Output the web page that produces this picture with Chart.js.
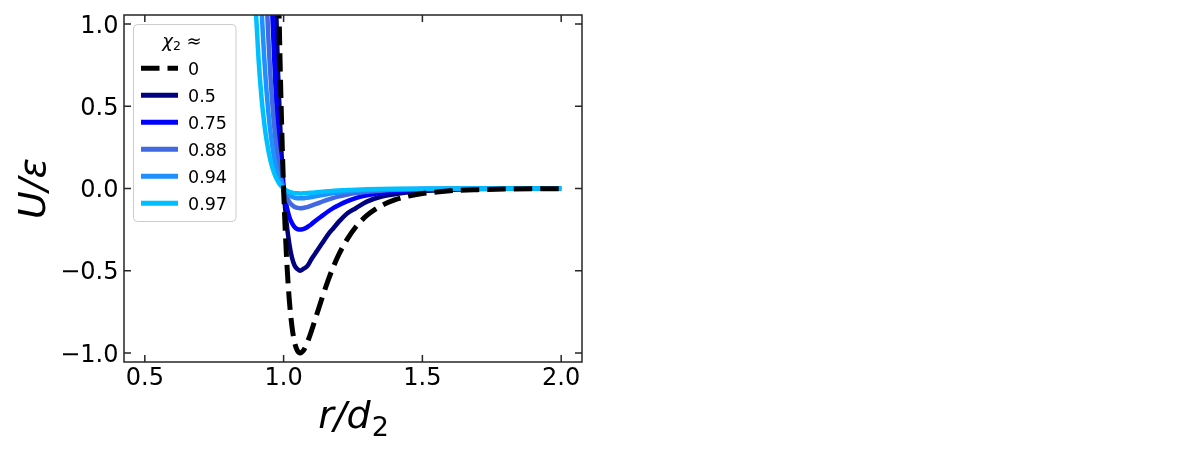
<!DOCTYPE html>
<html><head><meta charset="utf-8">
<script src="https://cdn.jsdelivr.net/npm/chart.js@4.4.1/dist/chart.umd.min.js"></script>
<style>html,body{margin:0;padding:0;background:#fff;} #wrap{width:1196px;height:461px;position:relative;}</style>
</head><body><div id="wrap"><canvas id="c" width="1196" height="461"></canvas></div>
<script>
// r / d2 sample positions
const r = [0.86,0.87,0.88,0.89,0.90,0.91,0.92,0.93,0.94,0.95,0.96,0.97,0.98,0.99,1.00,
  1.01,1.02,1.03,1.04,1.05,1.06,1.07,1.08,1.09,1.10,1.12,1.14,1.16,1.18,1.20,
  1.23,1.26,1.30,1.35,1.40,1.45,1.50,1.60,1.70,1.80,1.90,2.00];

// chi_2 ≈ labels
const chiLabels = ['0','0.5','0.75','0.88','0.94','0.97'];

// U/eps values
const u000 = [124.9,91.8,67.5,49.4,36.0,26.1,18.7,13.3,9.26,6.30,4.13,2.54,1.40,0.578,0.0,
  -0.399,-0.667,-0.838,-0.938,-0.987,-1.000,-0.988,-0.958,-0.916,-0.868,-0.763,-0.658,-0.560,-0.473,-0.398,
  -0.306,-0.234,-0.164,-0.106,-0.069,-0.046,-0.031,-0.014,-0.0069,-0.0035,-0.0018,-0.001];
const u050 = [62.5,45.9,33.8,24.7,18.0,13.1,9.35,6.65,4.63,3.15,2.07,1.27,0.70,0.29,0.0,
  -0.20,-0.33,-0.42,-0.47,-0.49,-0.50,-0.49,-0.48,-0.46,-0.43,-0.38,-0.33,-0.28,-0.24,-0.20,
  -0.15,-0.12,-0.08,-0.05,-0.035,-0.023,-0.015,-0.007,-0.0035,-0.0017,-0.0009,-0.0005];
const u075 = [31.2,23.0,16.9,12.4,9.0,6.5,4.7,3.3,2.3,1.57,1.03,0.64,0.35,0.14,0.0,
  -0.10,-0.17,-0.21,-0.235,-0.247,-0.25,-0.247,-0.24,-0.229,-0.217,-0.19,-0.165,-0.14,-0.118,-0.10,
  -0.077,-0.058,-0.041,-0.027,-0.017,-0.011,-0.008,-0.0035,-0.0017,-0.0009,-0.0005,-0.0002];
const u088 = [15.0,11.0,8.1,5.9,4.3,3.13,2.25,1.6,1.11,0.76,0.50,0.31,0.17,0.07,0.0,
  -0.048,-0.08,-0.10,-0.113,-0.118,-0.12,-0.119,-0.115,-0.11,-0.104,-0.092,-0.079,-0.067,-0.057,-0.048,
  -0.037,-0.028,-0.02,-0.013,-0.008,-0.0055,-0.0037,-0.0017,-0.0008,-0.0004,-0.0002,-0.0001];
const u094 = [7.5,5.5,4.05,2.96,2.16,1.57,1.12,0.80,0.56,0.38,0.25,0.15,0.084,0.035,0.0,
  -0.024,-0.04,-0.05,-0.056,-0.059,-0.06,-0.059,-0.057,-0.055,-0.052,-0.046,-0.039,-0.034,-0.028,-0.024,
  -0.018,-0.014,-0.01,-0.0064,-0.0042,-0.0028,-0.0018,-0.0008,-0.0004,-0.0002,-0.0001,-0.0001];
const u097 = [3.75,2.75,2.03,1.48,1.08,0.78,0.56,0.40,0.28,0.19,0.124,0.076,0.042,0.017,0.0,
  -0.012,-0.02,-0.025,-0.028,-0.0296,-0.03,-0.0296,-0.029,-0.027,-0.026,-0.023,-0.02,-0.017,-0.014,-0.012,
  -0.009,-0.007,-0.005,-0.0032,-0.0021,-0.0014,-0.0009,-0.0004,-0.0002,-0.0001,0,0];

// axis ticks
const xTicks = [0.5,1.0,1.5,2.0];
const xTickLabels = ['0.5','1.0','1.5','2.0'];
const yTicks = [-1.0,-0.5,0.0,0.5,1.0];
const yTickLabels = ['\u22121.0','\u22120.5','0.0','0.5','1.0'];

const seriesVals = [u000,u050,u075,u088,u094,u097];
const colors = ['#000000','#000080','#0000ff','#4169e1','#1e90ff','#00bfff'];
const drawOrder = [0,5,4,3,2,1];

const toPts = vals => vals.map((v,i)=>({x:r[i], y:v}));

const datasets = seriesVals.map((vals,i)=>({
  label: chiLabels[i],
  data: toPts(vals),
  borderColor: colors[i],
  backgroundColor: colors[i],
  borderWidth: i===0 ? 5 : 4.5,
  borderDash: i===0 ? [18.5,8] : [],
  borderCapStyle: 'butt',
  borderJoinStyle: 'round',
  cubicInterpolationMode: 'monotone',
  pointRadius: 0,
  fill: false,
  order: drawOrder[i]
}));

const FRAME = '#262626';
const FONT = '"DejaVu Sans", sans-serif';

const decor = {
  id: 'decor',
  afterDraw(chart){
    const ctx = chart.ctx, a = chart.chartArea;
    const xs = chart.scales.x, ys = chart.scales.y;
    ctx.save();
    // frame
    ctx.strokeStyle = FRAME; ctx.lineWidth = 1.5;
    ctx.strokeRect(a.left, a.top, a.right-a.left, a.bottom-a.top);
    // inward ticks
    ctx.beginPath();
    xTicks.forEach(v=>{
      const px = xs.getPixelForValue(v);
      ctx.moveTo(px, a.bottom); ctx.lineTo(px, a.bottom-7);
      ctx.moveTo(px, a.top); ctx.lineTo(px, a.top+7);
    });
    yTicks.forEach(v=>{
      const py = ys.getPixelForValue(v);
      ctx.moveTo(a.left, py); ctx.lineTo(a.left+7, py);
      ctx.moveTo(a.right, py); ctx.lineTo(a.right-7, py);
    });
    ctx.stroke();
    // tick labels
    ctx.fillStyle = '#000';
    ctx.font = '24px ' + FONT;
    ctx.textBaseline = 'alphabetic';
    ctx.textAlign = 'center';
    xTicks.forEach((v,i)=>{
      ctx.fillText(xTickLabels[i], xs.getPixelForValue(v), a.bottom + 22.5);
    });
    ctx.textAlign = 'right';
    yTicks.forEach((v,i)=>{
      ctx.fillText(yTickLabels[i], a.left - 5.5, ys.getPixelForValue(v) + 8.7);
    });
    // x axis title r/d2
    ctx.textAlign = 'left';
    ctx.font = 'italic 38px ' + FONT;
    const main = 'r/d';
    const wMain = ctx.measureText(main).width;
    ctx.font = '27px ' + FONT;
    const wSub = ctx.measureText('2').width;
    const cx = (a.left + a.right)/2;
    const x0 = cx - (wMain + wSub)/2;
    ctx.font = 'italic 38px ' + FONT;
    ctx.fillText(main, x0, 428);
    ctx.font = '27px ' + FONT;
    ctx.fillText('2', x0 + wMain + 1, 436);
    // y axis title U/eps
    ctx.save();
    ctx.translate(45, (a.top + a.bottom)/2);
    ctx.rotate(-Math.PI/2);
    ctx.font = 'italic 38px ' + FONT;
    ctx.textAlign = 'center';
    ctx.fillText('U/\u03b5', 0, 0);
    ctx.restore();
    // legend box
    const bx = 133.5, by = 24.5, bw = 102.5, bh = 197, rad = 4;
    ctx.beginPath();
    ctx.moveTo(bx+rad, by);
    ctx.arcTo(bx+bw, by, bx+bw, by+bh, rad);
    ctx.arcTo(bx+bw, by+bh, bx, by+bh, rad);
    ctx.arcTo(bx, by+bh, bx, by, rad);
    ctx.arcTo(bx, by, bx+bw, by, rad);
    ctx.closePath();
    ctx.fillStyle = 'rgba(255,255,255,0.8)';
    ctx.fill();
    ctx.strokeStyle = '#cccccc'; ctx.lineWidth = 1;
    ctx.stroke();
    // legend title  χ2 ≈
    ctx.fillStyle = '#000';
    ctx.textAlign = 'left';
    ctx.font = 'italic 18px ' + FONT;
    const wChi = ctx.measureText('\u03c7').width;
    ctx.font = '12.5px ' + FONT;
    const wTwo = ctx.measureText('2').width;
    ctx.font = '18px ' + FONT;
    const wApprox = ctx.measureText(' \u2248').width;
    let tx = 182 - (wChi + wTwo + wApprox)/2;
    ctx.font = 'italic 18px ' + FONT;
    ctx.fillText('\u03c7', tx, 47);
    ctx.font = '12.5px ' + FONT;
    ctx.fillText('2', tx + wChi, 50);
    ctx.font = '18px ' + FONT;
    ctx.fillText(' \u2248', tx + wChi + wTwo, 47);
    // legend entries
    chart.data.datasets.forEach((ds,i)=>{
      const yc = 68.3 + i*27;
      ctx.beginPath();
      ctx.strokeStyle = ds.borderColor;
      ctx.lineWidth = 5;
      ctx.lineCap = 'butt';
      ctx.setLineDash(ds.borderDash || []);
      ctx.moveTo(141, yc); ctx.lineTo(178, yc);
      ctx.stroke();
      ctx.setLineDash([]);
      ctx.fillStyle = '#000';
      ctx.font = '17.5px ' + FONT;
      ctx.fillText(ds.label, 188, yc + 6.3);
    });
    ctx.restore();
  }
};

new Chart(document.getElementById('c'), {
  type: 'line',
  data: { datasets },
  options: {
    responsive: false,
    animation: false,
    devicePixelRatio: 1,
    layout: { padding: { top: 15, right: 614, left: 0, bottom: 0 } },
    plugins: { legend: { display: false }, tooltip: { enabled: false } },
    scales: {
      x: {
        type: 'linear', min: 0.425, max: 2.075,
        grid: { display: false, drawTicks: false },
        border: { display: false },
        ticks: { display: false },
        afterFit: s => { s.height = 99; }
      },
      y: {
        type: 'linear', min: -1.055, max: 1.055,
        grid: { display: false, drawTicks: false },
        border: { display: false },
        ticks: { display: false },
        afterFit: s => { s.width = 124; }
      }
    }
  },
  plugins: [decor]
});
</script>
</body></html>
